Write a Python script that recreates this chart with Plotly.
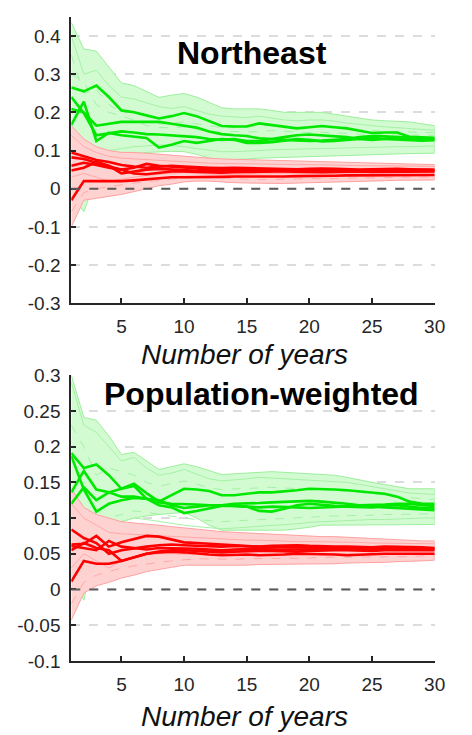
import plotly.graph_objects as go

years = list(range(1, 31))

# ---------------- Northeast ----------------
ne_green_hi = [0.435, 0.366, 0.36, 0.32, 0.277, 0.27, 0.255, 0.239, 0.245, 0.249, 0.24, 0.225, 0.212, 0.209, 0.209, 0.209, 0.205, 0.2, 0.2, 0.2, 0.2, 0.195, 0.19, 0.185, 0.18, 0.178, 0.176, 0.175, 0.17, 0.165]
ne_green_lo = [-0.02, -0.06, 0.03, 0.07, 0.085, 0.09, 0.095, 0.097, 0.098, 0.097, 0.09, 0.08, 0.077, 0.076, 0.078, 0.08, 0.082, 0.082, 0.083, 0.085, 0.086, 0.087, 0.088, 0.089, 0.09, 0.09, 0.091, 0.092, 0.093, 0.093]
ne_red_hi = [0.165, 0.13, 0.11, 0.1, 0.095, 0.095, 0.093, 0.09, 0.088, 0.085, 0.082, 0.08, 0.078, 0.077, 0.076, 0.075, 0.074, 0.073, 0.072, 0.071, 0.07, 0.069, 0.068, 0.067, 0.066, 0.066, 0.065, 0.064, 0.063, 0.063]
ne_red_lo = [-0.1, -0.03, -0.025, -0.02, -0.015, -0.008, 0.0, 0.008, 0.012, 0.018, 0.02, 0.02, 0.018, 0.016, 0.015, 0.014, 0.014, 0.014, 0.014, 0.015, 0.016, 0.017, 0.018, 0.019, 0.02, 0.021, 0.022, 0.022, 0.023, 0.023]

ne_green_main = [
    [0.265, 0.255, 0.27, 0.24, 0.205, 0.2, 0.192, 0.184, 0.19, 0.198, 0.19, 0.178, 0.164, 0.163, 0.163, 0.171, 0.167, 0.162, 0.158, 0.161, 0.164, 0.161, 0.158, 0.152, 0.146, 0.147, 0.147, 0.136, 0.134, 0.133],
    [0.209, 0.2, 0.165, 0.17, 0.175, 0.175, 0.175, 0.175, 0.17, 0.165, 0.16, 0.15, 0.143, 0.14, 0.138, 0.132, 0.13, 0.135, 0.14, 0.142, 0.14, 0.138, 0.135, 0.13, 0.128, 0.13, 0.133, 0.132, 0.13, 0.13],
    [0.24, 0.198, 0.14, 0.145, 0.15, 0.147, 0.143, 0.142, 0.14, 0.137, 0.135, 0.13, 0.128, 0.13, 0.125, 0.125, 0.13, 0.128, 0.127, 0.125, 0.126, 0.128, 0.13, 0.135, 0.138, 0.137, 0.135, 0.133, 0.132, 0.13],
    [0.167, 0.228, 0.125, 0.146, 0.14, 0.137, 0.133, 0.108, 0.115, 0.125, 0.12, 0.125, 0.13, 0.128, 0.12, 0.12, 0.122, 0.126, 0.13, 0.128, 0.124, 0.125, 0.128, 0.13, 0.133, 0.13, 0.128, 0.127, 0.126, 0.127],
]
ne_red_main = [
    [0.095, 0.085, 0.075, 0.07, 0.062, 0.058, 0.055, 0.058, 0.06, 0.058, 0.056, 0.055, 0.054, 0.055, 0.054, 0.053, 0.052, 0.052, 0.051, 0.052, 0.053, 0.052, 0.051, 0.05, 0.051, 0.052, 0.052, 0.051, 0.05, 0.05],
    [0.082, 0.078, 0.068, 0.06, 0.05, 0.055, 0.065, 0.06, 0.058, 0.055, 0.053, 0.05, 0.049, 0.05, 0.05, 0.05, 0.049, 0.048, 0.049, 0.05, 0.05, 0.049, 0.048, 0.048, 0.049, 0.05, 0.049, 0.048, 0.048, 0.048],
    [0.048, 0.055, 0.07, 0.06, 0.04, 0.045, 0.05, 0.052, 0.05, 0.048, 0.047, 0.046, 0.046, 0.047, 0.046, 0.045, 0.046, 0.047, 0.046, 0.045, 0.045, 0.046, 0.047, 0.047, 0.046, 0.046, 0.047, 0.047, 0.047, 0.047],
    [0.06, 0.068, 0.062, 0.055, 0.05, 0.04, 0.038, 0.042, 0.045, 0.045, 0.044, 0.043, 0.042, 0.043, 0.044, 0.044, 0.045, 0.045, 0.044, 0.043, 0.043, 0.044, 0.045, 0.045, 0.044, 0.044, 0.045, 0.045, 0.045, 0.045],
    [-0.03, 0.02, 0.02, 0.02, 0.02, 0.022, 0.025, 0.028, 0.03, 0.03, 0.03, 0.03, 0.031, 0.032, 0.032, 0.031, 0.031, 0.032, 0.033, 0.033, 0.034, 0.034, 0.035, 0.035, 0.035, 0.035, 0.036, 0.036, 0.036, 0.036],
]
ne_green_thin = [
    [0.40, 0.30, 0.31, 0.27, 0.24, 0.235, 0.225, 0.215, 0.21, 0.215, 0.205, 0.195, 0.19, 0.188, 0.186, 0.19, 0.185, 0.18, 0.178, 0.18, 0.18, 0.177, 0.172, 0.168, 0.165, 0.162, 0.16, 0.158, 0.155, 0.153],
    [0.30, 0.28, 0.22, 0.2, 0.19, 0.18, 0.165, 0.16, 0.16, 0.162, 0.155, 0.15, 0.148, 0.15, 0.148, 0.15, 0.152, 0.15, 0.148, 0.147, 0.148, 0.147, 0.145, 0.143, 0.142, 0.142, 0.14, 0.14, 0.14, 0.14],
    [0.05, 0.0, 0.08, 0.1, 0.105, 0.11, 0.112, 0.115, 0.113, 0.11, 0.105, 0.1, 0.097, 0.097, 0.098, 0.1, 0.102, 0.103, 0.103, 0.104, 0.105, 0.106, 0.107, 0.108, 0.108, 0.109, 0.11, 0.11, 0.111, 0.112],
    [0.35, 0.25, 0.26, 0.22, 0.2, 0.2, 0.19, 0.17, 0.17, 0.175, 0.17, 0.165, 0.16, 0.16, 0.162, 0.165, 0.165, 0.162, 0.16, 0.16, 0.162, 0.16, 0.158, 0.155, 0.152, 0.15, 0.15, 0.148, 0.147, 0.147],
]
ne_red_thin = [
    [0.14, 0.11, 0.095, 0.085, 0.08, 0.078, 0.075, 0.073, 0.072, 0.07, 0.068, 0.067, 0.066, 0.066, 0.065, 0.065, 0.064, 0.063, 0.063, 0.063, 0.062, 0.062, 0.061, 0.061, 0.06, 0.06, 0.06, 0.059, 0.059, 0.058],
    [-0.06, -0.01, 0.0, 0.005, 0.01, 0.015, 0.018, 0.022, 0.025, 0.028, 0.03, 0.03, 0.028, 0.026, 0.025, 0.024, 0.024, 0.025, 0.026, 0.026, 0.027, 0.027, 0.028, 0.028, 0.029, 0.029, 0.03, 0.03, 0.03, 0.031],
    [0.03, 0.04, 0.03, 0.02, 0.025, 0.03, 0.035, 0.038, 0.04, 0.042, 0.04, 0.038, 0.037, 0.037, 0.038, 0.038, 0.039, 0.04, 0.04, 0.04, 0.04, 0.041, 0.041, 0.041, 0.042, 0.042, 0.042, 0.042, 0.042, 0.042],
]

# ---------------- Population-weighted ----------------
pw_green_hi = [0.3, 0.241, 0.237, 0.215, 0.189, 0.192, 0.18, 0.168, 0.172, 0.176, 0.172, 0.166, 0.161, 0.162, 0.163, 0.164, 0.165, 0.164, 0.163, 0.162, 0.161, 0.16, 0.157, 0.153, 0.15, 0.147, 0.144, 0.141, 0.141, 0.141]
pw_green_lo = [0.02, -0.015, 0.06, 0.085, 0.095, 0.1, 0.103, 0.105, 0.107, 0.108, 0.1, 0.09, 0.083, 0.082, 0.082, 0.083, 0.083, 0.083, 0.085, 0.087, 0.09, 0.091, 0.091, 0.091, 0.091, 0.091, 0.091, 0.091, 0.091, 0.091]
pw_red_hi = [0.141, 0.115, 0.105, 0.1, 0.095, 0.093, 0.092, 0.09, 0.088, 0.086, 0.084, 0.082, 0.081, 0.08, 0.079, 0.079, 0.078, 0.077, 0.076, 0.075, 0.074, 0.074, 0.073, 0.072, 0.071, 0.07, 0.07, 0.069, 0.068, 0.068]
pw_red_lo = [-0.043, -0.005, 0.005, 0.01, 0.016, 0.02, 0.025, 0.028, 0.031, 0.034, 0.034, 0.033, 0.033, 0.034, 0.034, 0.035, 0.035, 0.035, 0.035, 0.035, 0.036, 0.036, 0.037, 0.037, 0.038, 0.038, 0.039, 0.04, 0.04, 0.041]

pw_green_main = [
    [0.191, 0.17, 0.175, 0.16, 0.141, 0.148, 0.135, 0.123, 0.132, 0.141, 0.14, 0.138, 0.132, 0.132, 0.134, 0.136, 0.136, 0.137, 0.139, 0.141, 0.141, 0.14, 0.139, 0.137, 0.136, 0.134, 0.13, 0.123, 0.12, 0.12],
    [0.187, 0.14, 0.109, 0.12, 0.125, 0.128, 0.127, 0.122, 0.12, 0.12, 0.119, 0.118, 0.118, 0.12, 0.12, 0.121, 0.122, 0.123, 0.124, 0.124, 0.123, 0.122, 0.12, 0.118, 0.118, 0.119, 0.12, 0.12, 0.118, 0.117],
    [0.136, 0.166, 0.14, 0.136, 0.13, 0.13, 0.127, 0.125, 0.118, 0.114, 0.116, 0.118, 0.118, 0.117, 0.116, 0.11, 0.109, 0.113, 0.118, 0.12, 0.118, 0.117, 0.116, 0.115, 0.115, 0.117, 0.118, 0.116, 0.114, 0.114],
    [0.12, 0.143, 0.125, 0.136, 0.141, 0.145, 0.127, 0.118, 0.115, 0.107, 0.11, 0.114, 0.117, 0.117, 0.116, 0.115, 0.116, 0.116, 0.115, 0.114, 0.115, 0.116, 0.117, 0.117, 0.116, 0.115, 0.114, 0.112, 0.111, 0.111],
]
pw_red_main = [
    [0.084, 0.072, 0.065, 0.05, 0.055, 0.058, 0.06, 0.062, 0.063, 0.062, 0.061, 0.06, 0.06, 0.061, 0.06, 0.059, 0.059, 0.06, 0.06, 0.059, 0.058, 0.058, 0.059, 0.059, 0.058, 0.058, 0.058, 0.058, 0.057, 0.057],
    [0.063, 0.064, 0.075, 0.06, 0.066, 0.07, 0.075, 0.074, 0.07, 0.066, 0.065, 0.064, 0.062, 0.061, 0.06, 0.06, 0.061, 0.062, 0.062, 0.061, 0.06, 0.06, 0.06, 0.059, 0.059, 0.06, 0.06, 0.059, 0.059, 0.058],
    [0.061, 0.058, 0.055, 0.068, 0.06, 0.058, 0.056, 0.058, 0.058, 0.057, 0.057, 0.056, 0.055, 0.056, 0.057, 0.057, 0.056, 0.056, 0.057, 0.057, 0.056, 0.056, 0.057, 0.057, 0.057, 0.056, 0.056, 0.057, 0.057, 0.057],
    [0.055, 0.065, 0.058, 0.055, 0.04, 0.045, 0.05, 0.053, 0.055, 0.055, 0.054, 0.053, 0.052, 0.053, 0.054, 0.054, 0.054, 0.053, 0.053, 0.054, 0.055, 0.055, 0.055, 0.054, 0.054, 0.055, 0.055, 0.055, 0.055, 0.055],
    [0.011, 0.04, 0.036, 0.036, 0.04, 0.045, 0.05, 0.052, 0.053, 0.052, 0.05, 0.049, 0.048, 0.049, 0.049, 0.048, 0.048, 0.049, 0.05, 0.05, 0.05, 0.049, 0.048, 0.049, 0.05, 0.05, 0.05, 0.05, 0.05, 0.05],
]
pw_green_thin = [
    [0.29, 0.23, 0.22, 0.2, 0.18, 0.185, 0.17, 0.16, 0.163, 0.168, 0.162, 0.155, 0.152, 0.153, 0.155, 0.157, 0.156, 0.155, 0.154, 0.154, 0.153, 0.152, 0.15, 0.147, 0.144, 0.141, 0.138, 0.135, 0.134, 0.133],
    [0.23, 0.2, 0.16, 0.17, 0.165, 0.16, 0.15, 0.145, 0.148, 0.152, 0.148, 0.142, 0.14, 0.141, 0.142, 0.143, 0.143, 0.142, 0.142, 0.141, 0.14, 0.139, 0.138, 0.136, 0.134, 0.132, 0.13, 0.128, 0.127, 0.126],
    [0.05, 0.0, 0.07, 0.09, 0.095, 0.1, 0.098, 0.095, 0.093, 0.09, 0.088, 0.086, 0.085, 0.086, 0.087, 0.088, 0.089, 0.09, 0.092, 0.094, 0.095, 0.096, 0.097, 0.097, 0.098, 0.098, 0.099, 0.099, 0.1, 0.1],
    [0.1, 0.08, 0.09, 0.1, 0.105, 0.11, 0.108, 0.105, 0.103, 0.1, 0.098, 0.096, 0.095, 0.096, 0.097, 0.098, 0.099, 0.1, 0.1, 0.101, 0.102, 0.103, 0.103, 0.104, 0.104, 0.105, 0.105, 0.105, 0.106, 0.106],
]
pw_red_thin = [
    [0.12, 0.1, 0.09, 0.08, 0.078, 0.077, 0.076, 0.075, 0.074, 0.073, 0.072, 0.071, 0.07, 0.07, 0.069, 0.069, 0.068, 0.068, 0.067, 0.067, 0.067, 0.066, 0.066, 0.066, 0.065, 0.065, 0.065, 0.064, 0.064, 0.064],
    [-0.02, 0.01, 0.02, 0.025, 0.03, 0.033, 0.036, 0.038, 0.04, 0.042, 0.043, 0.043, 0.042, 0.042, 0.043, 0.043, 0.044, 0.044, 0.044, 0.044, 0.045, 0.045, 0.045, 0.045, 0.046, 0.046, 0.046, 0.046, 0.047, 0.047],
    [0.03, 0.05, 0.04, 0.03, 0.04, 0.045, 0.048, 0.05, 0.05, 0.05, 0.049, 0.048, 0.048, 0.048, 0.049, 0.049, 0.049, 0.049, 0.05, 0.05, 0.05, 0.05, 0.05, 0.05, 0.05, 0.05, 0.05, 0.05, 0.05, 0.05],
]

panel_titles = ["Northeast", "Population-weighted"]
x_ticks = [5, 10, 15, 20, 25, 30]
ne_yticks = [-0.3, -0.2, -0.1, 0, 0.1, 0.2, 0.3, 0.4]
ne_ylabels = ["-0.3", "-0.2", "-0.1", "0", "0.1", "0.2", "0.3", "0.4"]
pw_yticks = [-0.1, -0.05, 0, 0.05, 0.1, 0.15, 0.2, 0.25, 0.3]
pw_ylabels = ["-0.1", "-0.05", "0", "0.05", "0.1", "0.15", "0.2", "0.25", "0.3"]
x_title = "Number of years"

GREEN = "#00e800"
RED = "#ff0000"
GREEN_FILL = "#d2fbd2"
RED_FILL = "#ffd2d2"
GREEN_EDGE = "#9cee9c"
RED_EDGE = "#ffa0a0"
GREEN_THIN = "#a6f0a6"
RED_THIN = "#ffa8a8"

fig = go.Figure()


def add_panel(xa, ya, g_hi, g_lo, r_hi, r_lo, g_thin, r_thin, g_main, r_main):
    def band(hi, lo, fill, edge):
        fig.add_trace(go.Scatter(
            x=years + years[::-1], y=hi + lo[::-1], mode="lines", fill="toself",
            fillcolor=fill, line=dict(color=edge, width=1), xaxis=xa, yaxis=ya,
            hoverinfo="skip", showlegend=False))

    def lines(series, color, width, dashed_every=0):
        for i, s in enumerate(series):
            dash = "dash" if dashed_every and i % 2 == 1 else "solid"
            fig.add_trace(go.Scatter(
                x=years, y=s, mode="lines", line=dict(color=color, width=width, dash=dash),
                xaxis=xa, yaxis=ya, showlegend=False))

    band(g_hi, g_lo, GREEN_FILL, GREEN_EDGE)
    lines(g_thin, GREEN_THIN, 1, dashed_every=2)
    band(r_hi, r_lo, RED_FILL, RED_EDGE)
    lines(r_thin, RED_THIN, 1, dashed_every=2)
    lines(g_main, GREEN, 2.6)
    lines(r_main, RED, 2.6)


add_panel("x", "y", ne_green_hi, ne_green_lo, ne_red_hi, ne_red_lo,
          ne_green_thin, ne_red_thin, ne_green_main, ne_red_main)
add_panel("x2", "y2", pw_green_hi, pw_green_lo, pw_red_hi, pw_red_lo,
          pw_green_thin, pw_red_thin, pw_green_main, pw_red_main)

W, H = 472, 735
x_dom = [73 / W, 445 / W]
axis_col = "#262626"
tick_font = dict(family="Liberation Sans, Arial, sans-serif", size=19, color=axis_col)

common_x = dict(range=[1, 30], tickvals=x_ticks, ticks="inside", ticklen=5, tickwidth=1.5,
                tickcolor=axis_col, showline=True, linecolor=axis_col, linewidth=2,
                showgrid=False, zeroline=False, tickfont=tick_font, domain=x_dom,
                ticklabelstandoff=5)
common_y = dict(ticks="inside", ticklen=5, tickwidth=1.5, tickcolor=axis_col,
                showline=True, linecolor=axis_col, linewidth=2, showgrid=True,
                gridcolor="#dcdcdc", gridwidth=1.5, griddash="dash", zeroline=False,
                tickfont=tick_font, ticklabelstandoff=5)

fig.update_layout(
    width=W, height=H, margin=dict(l=0, r=0, t=0, b=0),
    paper_bgcolor="white", plot_bgcolor="white", showlegend=False,
    xaxis=dict(common_x, anchor="y"),
    yaxis=dict(common_y, range=[-0.3, 0.45], tickvals=ne_yticks, ticktext=ne_ylabels,
               domain=[1 - 302 / H, 1 - 7 / H], anchor="x"),
    xaxis2=dict(common_x, anchor="y2"),
    yaxis2=dict(common_y, range=[-0.1, 0.3], tickvals=pw_yticks, ticktext=pw_ylabels,
                domain=[1 - 670 / H, 1 - 376 / H], anchor="x2"),
)

# dashed zero reference in each panel
for xr, yr in (("x domain", "y"), ("x2 domain", "y2")):
    fig.add_shape(type="line", xref=xr, yref=yr, x0=0, x1=1, y0=0, y1=0,
                  line=dict(color="#5a5a5a", width=2, dash="dash"), layer="above")

title_font = dict(family="Liberation Sans, Arial, sans-serif", size=32, color="black")
label_font = dict(family="Liberation Sans, Arial, sans-serif", size=28, color="#111111", style="italic")

fig.add_annotation(text="<b>" + panel_titles[0] + "</b>", xref="paper", yref="paper",
                   x=258 / W, y=1 - 44 / H, xanchor="center", yanchor="middle",
                   showarrow=False, font=title_font)
fig.add_annotation(text="<b>" + panel_titles[1] + "</b>", xref="paper", yref="paper",
                   x=268 / W, y=1 - 395 / H, xanchor="center", yanchor="middle",
                   showarrow=False, font=title_font)
# axis titles, anchored at the top of their text box
for ytop in (337, 709):
    fig.add_annotation(text=x_title, xref="paper", yref="paper", x=250 / W, y=1 - ytop / H,
                       xanchor="center", yanchor="top", showarrow=False, font=label_font)

fig.write_html("out.html")
